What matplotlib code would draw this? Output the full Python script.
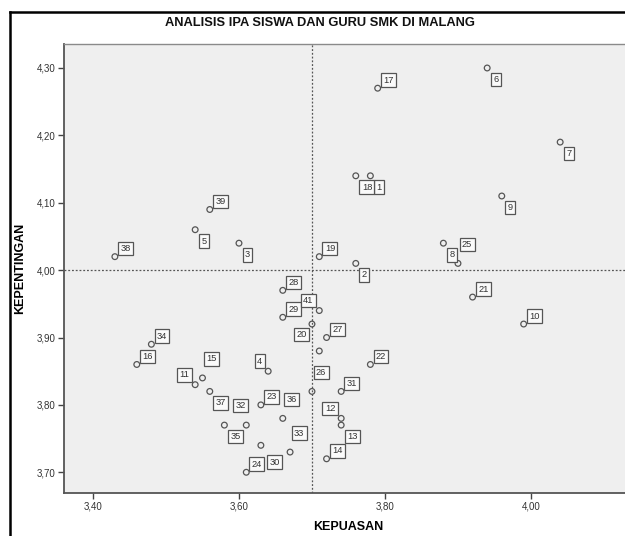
import matplotlib.pyplot as plt
from matplotlib.lines import Line2D

# chart text
title = "ANALISIS IPA SISWA DAN GURU SMK DI MALANG"
x_label = "KEPUASAN"
y_label = "KEPENTINGAN"

# case labels (one point has no visible label)
labels = ["1", "2", "3", "4", "5", "6", "7", "8", "9", "10",
          "11", "12", "13", "14", "15", "16", "17", "18", "19", "20",
          "21", "22", "23", "24", "25", "26", "27", "28", "29", "30",
          "31", "32", "33", "34", "35", "36", "37", "38", "39", "", "41"]

kepuasan = [3.78, 3.76, 3.60, 3.64, 3.54, 3.94, 4.04, 3.88, 3.96, 3.99,
            3.54, 3.74, 3.74, 3.72, 3.55, 3.46, 3.79, 3.76, 3.71, 3.70,
            3.92, 3.78, 3.63, 3.61, 3.90, 3.70, 3.72, 3.66, 3.66, 3.63,
            3.74, 3.61, 3.67, 3.48, 3.58, 3.66, 3.56, 3.43, 3.56, 3.71, 3.71]

kepentingan = [4.14, 4.01, 4.04, 3.85, 4.06, 4.30, 4.19, 4.04, 4.11, 3.92,
               3.83, 3.78, 3.77, 3.72, 3.84, 3.86, 4.27, 4.14, 4.02, 3.92,
               3.96, 3.86, 3.80, 3.70, 4.01, 3.82, 3.90, 3.97, 3.93, 3.74,
               3.82, 3.77, 3.73, 3.89, 3.77, 3.78, 3.82, 4.02, 4.09, 3.88, 3.94]

x_ticks = [3.40, 3.60, 3.80, 4.00]
y_ticks = [3.70, 3.80, 3.90, 4.00, 4.10, 4.20, 4.30]
x_mean = 3.70
y_mean = 4.00

# where each label box sits relative to its point (layout only)
place = {"1": "dr", "2": "dr", "3": "dr", "4": "ul", "5": "dr", "6": "dr",
         "7": "dr", "8": "dr", "9": "dr", "10": "ur", "11": "ul", "12": "ul",
         "13": "dr", "14": "ur", "15": "ur2", "16": "ur", "17": "ur", "18": "dr",
         "19": "ur", "20": "dl", "21": "ur", "22": "ur", "23": "ur", "24": "ur",
         "25": "ur2", "26": "ur2", "27": "ur", "28": "ur", "29": "ur", "30": "dr2",
         "31": "ur", "32": "ul2", "33": "ur2", "34": "ur", "35": "dr", "36": "ur2",
         "37": "dr", "38": "ur", "39": "ur", "41": "ul"}
# (dx px, dy px, ha, va)
offsets = {"ur": (5.5, 3.5, "left", "bottom"),
           "dr": (6, -7, "left", "top"),
           "ul": (-6, 5.5, "right", "bottom"),
           "dl": (-5.5, -6, "right", "top"),
           "ur2": (4, 14.5, "left", "bottom"),
           "ul2": (-0.5, 15, "right", "bottom"),
           "dr2": (8.5, -12.5, "left", "top")}

plt.rcParams["font.family"] = ["Liberation Sans", "DejaVu Sans"]

fig = plt.figure(figsize=(6.25, 5.36), dpi=100)
ax = fig.add_axes([64 / 625, 1 - 493.3 / 536, 568 / 625, 449.3 / 536])
ax.set_facecolor("#efefef")

ax.scatter(kepuasan, kepentingan, s=17, facecolors="none",
           edgecolors="#555555", linewidths=0.9, zorder=3)

ax.axvline(x_mean, color="#555555", lw=0.9, ls=(0, (1.5, 1.5)), zorder=2)
ax.axhline(y_mean, color="#555555", lw=0.9, ls=(0, (1.5, 1.5)), zorder=2)

for lab, x, y in zip(labels, kepuasan, kepentingan):
    if not lab:
        continue
    dx, dy, ha, va = offsets[place[lab]]
    ax.annotate(lab, (x, y), xytext=(dx, dy), textcoords="offset pixels",
                ha=ha, va=va, fontsize=6.7, color="#333333", zorder=4,
                bbox=dict(boxstyle="square,pad=0.25", fc="#fafafa",
                          ec="#555555", lw=0.9))

ax.set_xlim(3.3603, 4.1384)
ax.set_ylim(3.6688, 4.3356)
ax.set_xticks(x_ticks)
ax.set_yticks(y_ticks)
ax.set_xticklabels([f"{v:.2f}".replace(".", ",") for v in x_ticks])
ax.set_yticklabels([f"{v:.2f}".replace(".", ",") for v in y_ticks])
ax.tick_params(length=4, width=1, color="#444444", labelsize=7,
               labelcolor="#333333", pad=2)

for side in ["left", "bottom"]:
    ax.spines[side].set_color("#555555")
    ax.spines[side].set_linewidth(1.3)
ax.spines["top"].set_color("#8a8a8a")
ax.spines["top"].set_linewidth(1)
ax.spines["right"].set_visible(False)

ax.set_xlabel(x_label, fontsize=9, fontweight="bold", labelpad=7)
ax.set_ylabel(y_label, fontsize=9, fontweight="bold", labelpad=8)

fig.text(320 / 625, 1 - 23 / 536, title, ha="center", va="center",
         fontsize=9.3, fontweight="bold", color="#111111")

# outer chart frame (cropped on right and bottom)
fig.add_artist(Line2D([10 / 625, 10 / 625], [0, 1 - 12 / 536],
                      transform=fig.transFigure, color="black", lw=1.8))
fig.add_artist(Line2D([10 / 625, 1], [1 - 12 / 536, 1 - 12 / 536],
                      transform=fig.transFigure, color="black", lw=1.8))

fig.savefig("out.png", dpi=100)
